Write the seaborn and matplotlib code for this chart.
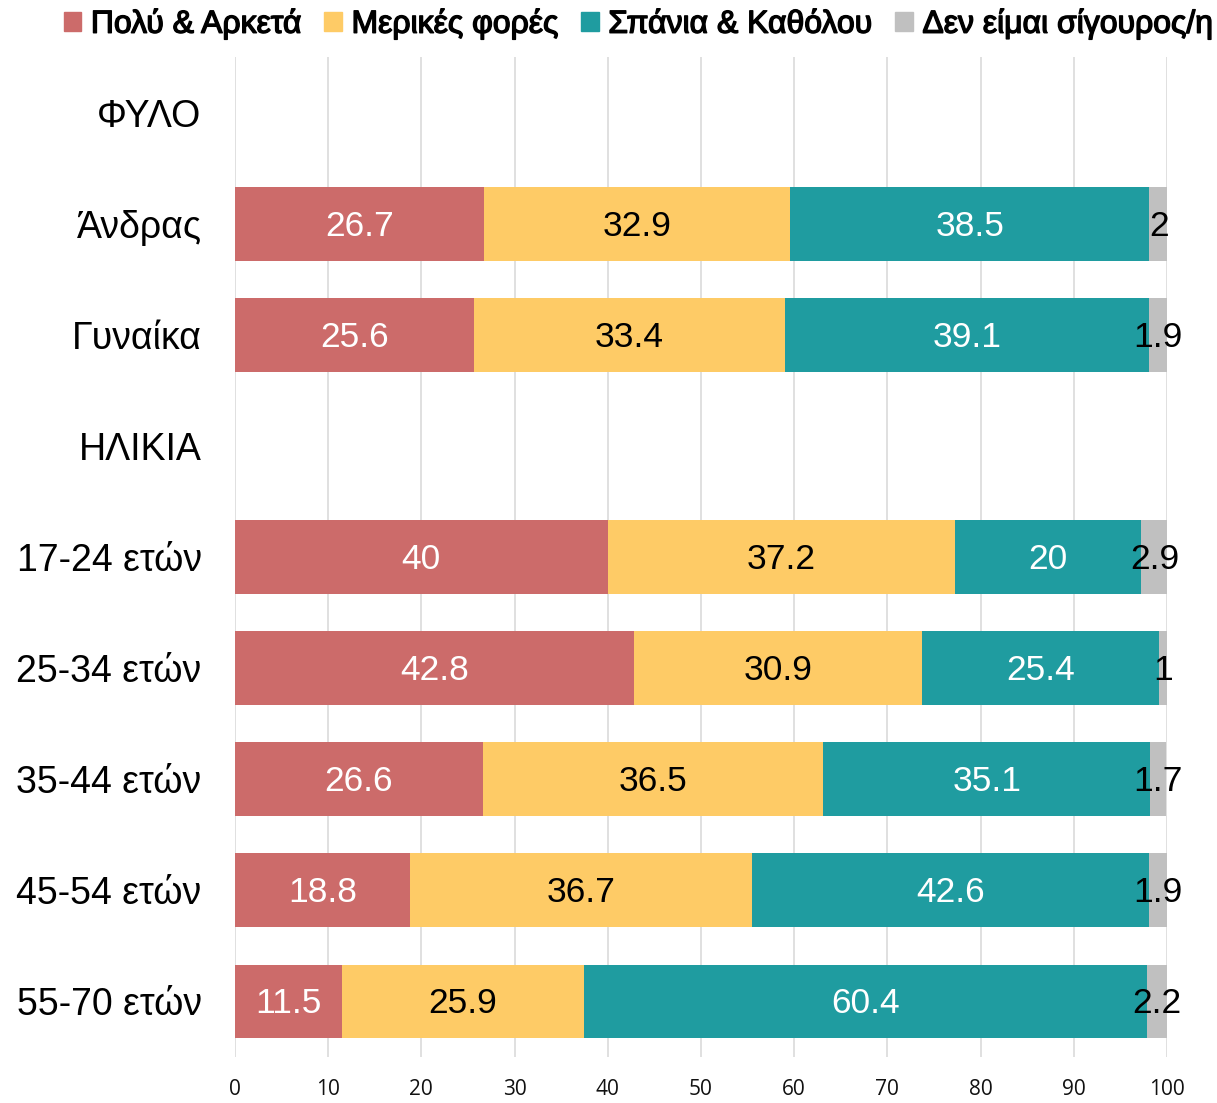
import numpy as np
import pandas as pd
import seaborn as sns
import matplotlib.pyplot as plt
import matplotlib.patheffects as pe
from matplotlib.patches import Patch

categories = ['ΦΥΛΟ', 'Άνδρας', 'Γυναίκα', 'ΗΛΙΚΙΑ', '17-24 ετών', '25-34 ετών',
              '35-44 ετών', '45-54 ετών', '55-70 ετών']
series = ['Πολύ & Αρκετά', 'Μερικές φορές', 'Σπάνια & Καθόλου', 'Δεν είμαι σίγουρος/η']
poly = [np.nan, 26.7, 25.6, np.nan, 40, 42.8, 26.6, 18.8, 11.5]
merikes = [np.nan, 32.9, 33.4, np.nan, 37.2, 30.9, 36.5, 36.7, 25.9]
spania = [np.nan, 38.5, 39.1, np.nan, 20, 25.4, 35.1, 42.6, 60.4]
den = [np.nan, 2, 1.9, np.nan, 2.9, 1, 1.7, 1.9, 2.2]
colors = ['#CC6B6A', '#FECB66', '#1F9CA0', '#C0C0C0']
text_colors = ['white', 'black', 'white', 'black']

sns.set_style('white')
plt.rcParams['font.family'] = ['Liberation Sans', 'DejaVu Sans']

df = pd.DataFrame({'cat': categories, series[0]: poly, series[1]: merikes,
                   series[2]: spania, series[3]: den})
cum = df[series].cumsum(axis=1)

fig = plt.figure(figsize=(12.17, 11.03), dpi=100)
ax = fig.add_axes([0.193, 0.042, 0.766, 0.906])

# draw from the full stack down so each segment shows
for i in reversed(range(len(series))):
    sns.barplot(x=cum[series[i]], y=df['cat'], order=categories, color=colors[i],
                orient='h', width=0.66, saturation=1, linewidth=0, ax=ax, zorder=2)

for r, cat in enumerate(categories):
    left = 0
    for i, s in enumerate(series):
        v = df.loc[r, s]
        if np.isnan(v):
            continue
        ax.text(left + v / 2, r + 0.02, f'{v:g}', ha='center', va='center',
                color=text_colors[i], fontsize=25.5, zorder=3)
        left += v

ax.set_xlim(0, 100)
ax.set_ylim(8.5, -0.5)
ax.set_xticks(range(0, 101, 10))
ax.xaxis.grid(True, color='#DDDDDD', linewidth=1.3, zorder=0)
ax.set_axisbelow(True)
for sp in ax.spines.values():
    sp.set_visible(False)
ax.tick_params(axis='x', length=0, pad=16, labelsize=15, labelcolor='#111111')
ax.tick_params(axis='y', length=0, pad=24, labelsize=27, labelcolor='black')
for lab in ax.get_xticklabels():
    lab.set_family(['Open Sans', 'DejaVu Sans'])
ax.set_xlabel('')
ax.set_ylabel('')

handles = [Patch(color=c, label=s) for c, s in zip(colors, series)]
leg = fig.legend(handles=handles, loc='center', bbox_to_anchor=(0.525, 0.978), ncol=4,
                 frameon=False, handlelength=0.55, handleheight=0.55,
                 handletextpad=0.3, columnspacing=0.7,
                 prop={'family': ['Liberation Sans', 'DejaVu Sans'], 'size': 23})
for t in leg.get_texts():
    t.set_color('black')
    t.set_path_effects([pe.withStroke(linewidth=1.0, foreground='black')])

fig.savefig('out.png', dpi=100)
